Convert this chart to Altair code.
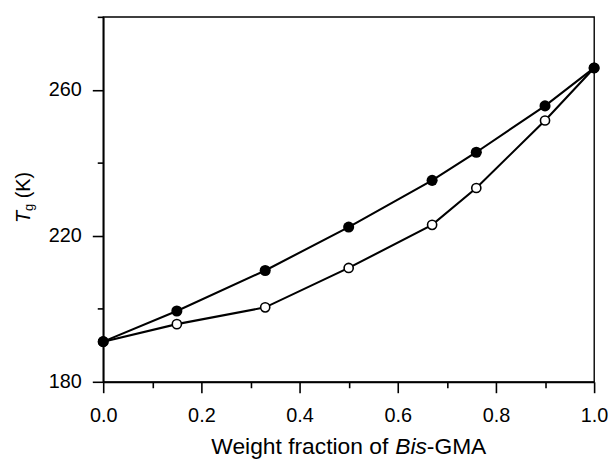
import altair as alt
import pandas as pd

# ---- data ----
weight_fraction = [0.0, 0.15, 0.33, 0.50, 0.67, 0.76, 0.90, 1.0]
tg_filled = [191.0, 199.4, 210.5, 222.4, 235.2, 242.9, 255.6, 266.0]
tg_open = [191.0, 195.8, 200.4, 211.2, 223.0, 233.1, 251.6, 266.0]

x_ticks = [0.0, 0.1, 0.2, 0.3, 0.4, 0.5, 0.6, 0.7, 0.8, 0.9, 1.0]
y_ticks = [180, 200, 220, 240, 260, 280]

FONT = "Liberation Sans"

df = pd.DataFrame({
    "x": weight_fraction * 2,
    "tg": tg_filled + tg_open,
    "series": ["filled"] * len(weight_fraction) + ["open"] * len(weight_fraction),
})
df_filled = df[df.series == "filled"]
df_open = df[df.series == "open"]

x_axis = alt.Axis(
    values=x_ticks,
    labelExpr="round(datum.value*10) % 2 == 1 ? '' : format(datum.value, '.1f')",
    tickSize={"condition": {"test": "round(datum.value*10) % 2 == 1", "value": 6}, "value": 11},
    labelPadding=13,
    title=None,
)
y_axis = alt.Axis(
    values=y_ticks,
    labelExpr="(datum.value - 180) % 40 == 0 ? datum.label : ''",
    tickSize={"condition": {"test": "(datum.value - 180) % 40 != 0", "value": 6}, "value": 11},
    labelPadding=11,
    title=None,
)

xs = alt.Scale(domain=[0, 1], nice=False, zero=False)
ys = alt.Scale(domain=[180, 280], nice=False, zero=False)

base = alt.Chart(df).encode(
    x=alt.X("x:Q", scale=xs, axis=x_axis),
    y=alt.Y("tg:Q", scale=ys, axis=y_axis),
)

lines = base.mark_line(color="black", strokeWidth=2.1).encode(detail="series:N")

open_pts = alt.Chart(df_open).mark_point(
    shape="circle", filled=True, fill="white", stroke="black", strokeWidth=1.6,
    size=85, opacity=1,
).encode(x=alt.X("x:Q", scale=xs), y=alt.Y("tg:Q", scale=ys))

filled_pts = alt.Chart(df_filled).mark_point(
    shape="circle", filled=True, fill="black", size=125, opacity=1, strokeWidth=0,
).encode(x=alt.X("x:Q", scale=xs), y=alt.Y("tg:Q", scale=ys))


def label(text, x, y, size, style="normal", angle=0):
    kw = dict(align="left", baseline="alphabetic", font=FONT, fontSize=size,
              fontStyle=style, color="black")
    if angle:
        kw["angle"] = angle
        kw["baseline"] = "middle"
    return alt.Chart(pd.DataFrame({"t": [text]})).mark_text(**kw).encode(
        text="t:N", x=alt.value(x), y=alt.value(y)
    )


xt1 = label("Weight fraction of", 109, 441, 23)
xt2 = label("Bis", 294.4, 441, 23, "italic")
xt3 = label("-GMA", 326.3, 441, 23)

yt1 = label("T", -80.3, 208, 20, "italic", 270)
yt2 = label("g", -74.3, 195.8, 13, "normal", 270)
yt3 = label("(K)", -80.3, 183, 20, "normal", 270)

chart = alt.layer(
    lines, open_pts, filled_pts, xt1, xt2, xt3, yt1, yt2, yt3
).properties(
    width=495,
    height=368,
    autosize=alt.AutoSizeParams(type="none"),
    padding={"left": 96, "top": 7, "right": 14, "bottom": 85},
).configure_view(
    stroke="black", strokeWidth=1.4
).configure_axis(
    grid=False,
    domainColor="black",
    domainWidth=1.8,
    tickColor="black",
    tickWidth=1.6,
    labelFont=FONT,
    labelFontSize=20,
    labelColor="black",
    labelFlush=False,
    labelOverlap=False,
)

chart.save("out.html", embed_options={"renderer": "svg", "actions": False})
